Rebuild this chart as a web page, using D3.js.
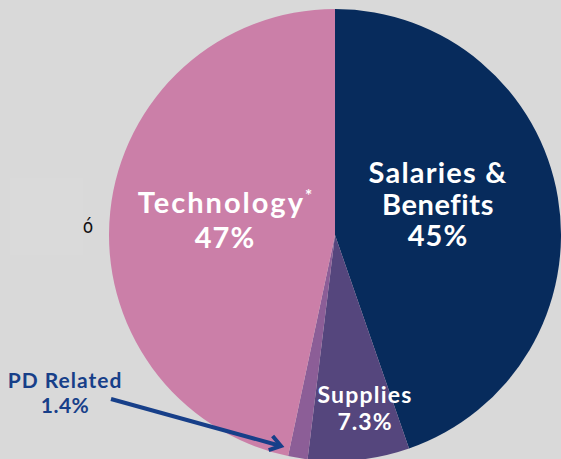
<!DOCTYPE html>
<html>
<head>
<meta charset="utf-8">
<script src="https://cdn.jsdelivr.net/npm/d3@7"></script>
<style>
  html, body { margin: 0; padding: 0; background: #d9d9d9; }
  svg { display: block; }
</style>
</head>
<body>
<svg id="chart"></svg>
<script>
// spending breakdown, clockwise from 12 o'clock
var categories = ["Salaries & Benefits", "Supplies", "PD Related", "Technology*"];
var shares = [45, 7.3, 1.4, 47];
var shareLabels = ["45%", "7.3%", "1.4%", "47%"];
var colors = ["#072b5c", "#55467d", "#8c5e97", "#cb7fa8"];

var width = 561, height = 459;
var cx = 335, cy = 235, radius = 226;

var svg = d3.select("#chart")
  .attr("width", width)
  .attr("height", height);

svg.append("rect")
  .attr("width", width)
  .attr("height", height)
  .attr("fill", "#d9d9d9");

// faint leftover box + stray glyph on the left
svg.append("rect")
  .attr("x", 10).attr("y", 178)
  .attr("width", 73).attr("height", 77)
  .attr("fill", "#dadada");
svg.append("text")
  .attr("x", 88).attr("y", 233)
  .attr("text-anchor", "middle")
  .style("font-family", "'Liberation Sans Narrow', 'DejaVu Sans Condensed', sans-serif")
  .style("font-size", "19px")
  .attr("fill", "#111")
  .text("ó");

var data = categories.map(function(c, i) {
  return {name: c, value: shares[i], label: shareLabels[i], color: colors[i]};
});

var pie = d3.pie().sort(null).value(function(d) { return d.value; });
var arc = d3.arc().innerRadius(0).outerRadius(radius);

var g = svg.append("g")
  .attr("transform", "translate(" + cx + "," + cy + ")");

g.selectAll("path")
  .data(pie(data))
  .enter().append("path")
  .attr("d", arc)
  .attr("fill", function(d) { return d.data.color; });

// in-slice labels (line positions relative to pie centre)
var labelFont = "Lato, 'Open Sans', sans-serif";
var inside = [
  {i: 0, x: 103, lines: [{t: "Salaries &", dy: -52, ls: 1.2}, {t: "Benefits", dy: -20, ls: 0.6}, {t: null, dy: 11, ls: 1}], size: 29},
  {i: 3, x: -110, lines: [{t: "Technology", dy: -22, star: true, ls: 2}, {t: null, dy: 13, ls: 1}], size: 29},
  {i: 1, x: 30, lines: [{t: "Supplies", dy: 168, ls: 1.2}, {t: null, dy: 195, ls: 1}], size: 23}
];

inside.forEach(function(lab) {
  var d = data[lab.i];
  lab.lines.forEach(function(line) {
    var txt = g.append("text")
      .attr("x", lab.x)
      .attr("y", line.dy)
      .attr("text-anchor", "middle")
      .attr("fill", "#fff")
      .style("font-family", labelFont)
      .style("font-weight", 700)
      .style("letter-spacing", line.ls + "px")
      .style("font-size", lab.size + "px");
    if (line.t === null) {
      txt.text(d.label);
    } else {
      txt.text(line.t);
      if (line.star) {
        txt.append("tspan")
          .attr("dy", -11)
          .style("font-size", "17px")
          .style("letter-spacing", "0px")
          .text("*");
      }
    }
  });
});

// PD Related callout
var pd = data[2];
var navy = "#173f89";
svg.append("text")
  .attr("x", 65).attr("y", 388)
  .attr("text-anchor", "middle")
  .attr("fill", navy)
  .style("font-family", labelFont)
  .style("font-weight", 700)
  .style("font-size", "21px")
  .style("letter-spacing", "1px")
  .text(pd.name);
svg.append("text")
  .attr("x", 65).attr("y", 413)
  .attr("text-anchor", "middle")
  .attr("fill", navy)
  .style("font-family", labelFont)
  .style("font-weight", 700)
  .style("font-size", "21px")
  .style("letter-spacing", "0.5px")
  .text(pd.label);

var x0 = 111, y0 = 399, x1 = 281, y1 = 446;
var ang = Math.atan2(y1 - y0, x1 - x0);
var head = 13;
svg.append("line")
  .attr("x1", x0).attr("y1", y0)
  .attr("x2", x1 - 2 * Math.cos(ang)).attr("y2", y1 - 2 * Math.sin(ang))
  .attr("stroke", navy)
  .attr("stroke-width", 4);
svg.append("path")
  .attr("d", d3.line()([
    [x1 - head * Math.cos(ang - 0.6), y1 - head * Math.sin(ang - 0.6)],
    [x1, y1],
    [x1 - head * Math.cos(ang + 0.6), y1 - head * Math.sin(ang + 0.6)]
  ]))
  .attr("fill", "none")
  .attr("stroke", navy)
  .attr("stroke-width", 4)
  .attr("stroke-linejoin", "miter");
</script>
</body>
</html>
